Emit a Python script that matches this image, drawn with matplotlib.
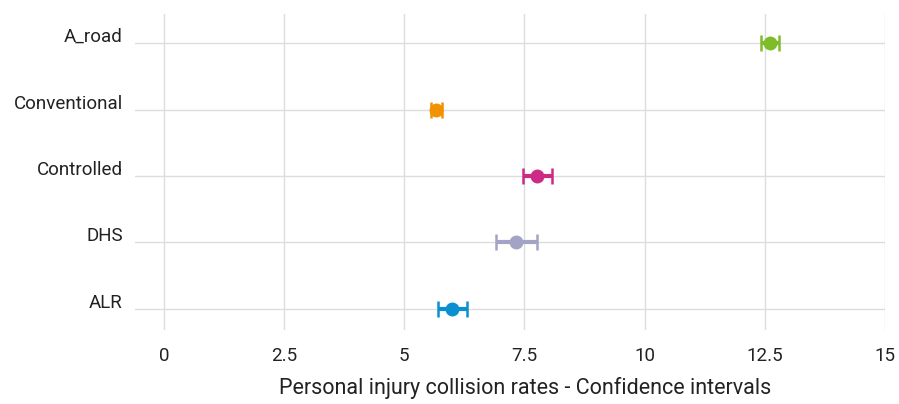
import matplotlib
matplotlib.use("Agg")
import matplotlib.pyplot as plt
from matplotlib import font_manager as fm
import matplotlib.transforms as mtransforms

categories = ["ALR", "DHS", "Controlled", "Conventional", "A_road"]
means = [5.99, 7.33, 7.77, 5.67, 12.61]
lower = [5.70, 6.90, 7.47, 5.56, 12.43]
upper = [6.30, 7.77, 8.07, 5.78, 12.80]
colors = ["#0a8fd0", "#a3a3c6", "#cc2a86", "#f39200", "#7fbc2a"]
xticks = [0, 2.5, 5, 7.5, 10, 12.5, 15]
xtick_labels = ["0", "2.5", "5", "7.5", "10", "12.5", "15"]
xlabel = "Personal injury collision rates - Confidence intervals"

names = {f.name for f in fm.fontManager.ttflist}
fam = "Liberation Sans Narrow" if "Liberation Sans Narrow" in names else "Roboto"
plt.rcParams["font.family"] = [fam, "DejaVu Sans"]

fig = plt.figure(figsize=(8.99, 4.04), dpi=100)
ax = fig.add_axes([135/899, 1-330/404, (885-135)/899, (330-14)/404])

ypos = list(range(len(categories)))
for y, m, lo, hi, c in zip(ypos, means, lower, upper, colors):
    ax.errorbar([m], [y], xerr=[[m-lo], [hi-m]], fmt="o", color=c,
                markersize=9, elinewidth=3, capsize=5.5, capthick=1.8, zorder=3)

ax.set_xlim(-0.6, 15)
ax.set_ylim(-0.32, 4.44)
ax.set_xticks(xticks)
ax.set_xticklabels(xtick_labels, fontsize=13.5, color="#222222")
ax.set_yticks(ypos)
ax.set_yticklabels(categories, fontsize=13.5, color="#222222")
ax.grid(True, color="#dddddd", linewidth=1)
ax.set_axisbelow(True)
for s in ax.spines.values():
    s.set_visible(False)
ax.tick_params(length=0)
ax.tick_params(axis="y", pad=13)
ax.tick_params(axis="x", pad=12)
off = mtransforms.ScaledTranslation(6/100, 8/100, fig.dpi_scale_trans)
for lbl in ax.get_yticklabels():
    lbl.set_transform(lbl.get_transform() + off)
ax.set_xlabel(xlabel, fontsize=15.5, color="#222222", labelpad=9)
ax.xaxis.label.set_x(0.52)

fig.savefig("out.png", dpi=100)
